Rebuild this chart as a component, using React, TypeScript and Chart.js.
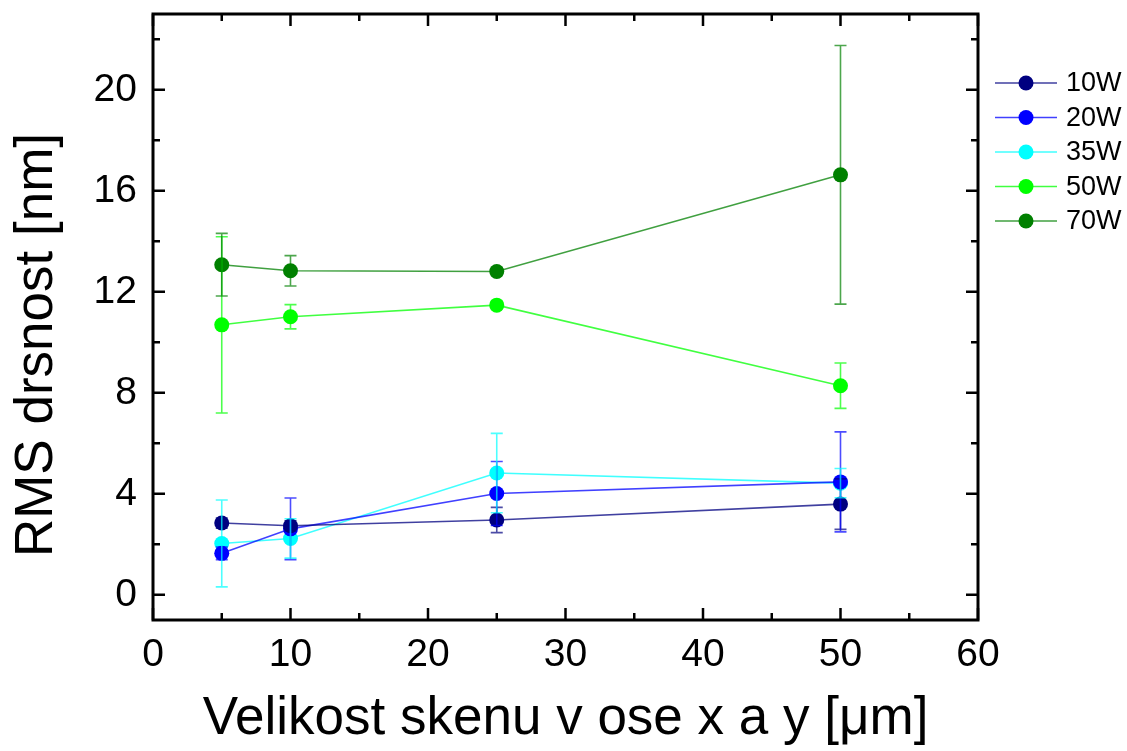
import { useEffect, useRef } from "react";
import { Chart, registerables } from "chart.js";
Chart.register(...registerables);

const scanSizes = [5, 10, 25, 50];
const seriesNames = ["10W", "20W", "35W", "50W", "70W"];
const seriesColors = ["#000080", "#0000ff", "#00ffff", "#00ff00", "#008000"];
const rms10W = [2.84, 2.73, 2.96, 3.59];
const err10W = [0.2, 0.2, 0.5, 1.0];
const rms20W = [1.64, 2.61, 4.01, 4.47];
const err20W = [0.25, 1.22, 1.27, 1.98];
const rms35W = [2.03, 2.23, 4.82, 4.42];
const err35W = [1.72, 0.78, 1.57, 0.58];
const rms50W = [10.69, 11.01, 11.47, 8.28];
const err50W = [3.49, 0.48, 0.15, 0.9];
const rms70W = [13.07, 12.83, 12.8, 16.63];
const err70W = [1.24, 0.6, 0.15, 5.12];
const xMajorTicks = [0, 10, 20, 30, 40, 50, 60];
const xMinorTicks = [5, 15, 25, 35, 45, 55];
const yMajorTicks = [0, 4, 8, 12, 16, 20];
const yMinorTicks = [2, 6, 10, 14, 18, 22];
const yTitle = "RMS drsnost [nm]";
const xTitle = "Velikost skenu v ose x a y [μm]";

const allValues = [rms10W, rms20W, rms35W, rms50W, rms70W];
const allErrors = [err10W, err20W, err35W, err50W, err70W];

const FONT = "'Liberation Sans', Arial, Helvetica, sans-serif";

function withAlpha(hex: string, a: number) {
  const r = parseInt(hex.slice(1, 3), 16);
  const g = parseInt(hex.slice(3, 5), 16);
  const b = parseInt(hex.slice(5, 7), 16);
  return `rgba(${r},${g},${b},${a})`;
}

const errorBarPlugin = {
  id: "errorBars",
  afterDatasetsDraw(chart: any) {
    const ctx = chart.ctx;
    const xs = chart.scales.x;
    const ys = chart.scales.y;
    ctx.save();
    allValues.forEach((vals, i) => {
      const errs = allErrors[i];
      ctx.strokeStyle = withAlpha(seriesColors[i], 0.7);
      ctx.lineWidth = 1.6;
      vals.forEach((v, j) => {
        const x = xs.getPixelForValue(scanSizes[j]);
        const yT = ys.getPixelForValue(v + errs[j]);
        const yB = ys.getPixelForValue(v - errs[j]);
        ctx.beginPath();
        ctx.moveTo(x, yT);
        ctx.lineTo(x, yB);
        ctx.moveTo(x - 6, yT);
        ctx.lineTo(x + 6, yT);
        ctx.moveTo(x - 6, yB);
        ctx.lineTo(x + 6, yB);
        ctx.stroke();
      });
    });
    ctx.restore();
  },
};

const framePlugin = {
  id: "frame",
  afterDraw(chart: any) {
    const ctx = chart.ctx;
    const { left, right, top, bottom } = chart.chartArea;
    const xs = chart.scales.x;
    const ys = chart.scales.y;
    ctx.save();
    ctx.strokeStyle = "#000";
    ctx.lineWidth = 2.5;
    ctx.beginPath();
    xMajorTicks.forEach((v) => {
      const x = xs.getPixelForValue(v);
      ctx.moveTo(x, bottom);
      ctx.lineTo(x, bottom - 12);
      ctx.moveTo(x, top);
      ctx.lineTo(x, top + 12);
    });
    xMinorTicks.forEach((v) => {
      const x = xs.getPixelForValue(v);
      ctx.moveTo(x, bottom);
      ctx.lineTo(x, bottom - 7);
      ctx.moveTo(x, top);
      ctx.lineTo(x, top + 7);
    });
    yMajorTicks.forEach((v) => {
      const y = ys.getPixelForValue(v);
      ctx.moveTo(left, y);
      ctx.lineTo(left + 12, y);
      ctx.moveTo(right, y);
      ctx.lineTo(right - 12, y);
    });
    yMinorTicks.forEach((v) => {
      const y = ys.getPixelForValue(v);
      ctx.moveTo(left, y);
      ctx.lineTo(left + 7, y);
      ctx.moveTo(right, y);
      ctx.lineTo(right - 7, y);
    });
    ctx.stroke();
    ctx.lineWidth = 3;
    ctx.strokeRect(left, top, right - left, bottom - top);

    // y-axis title
    ctx.save();
    ctx.fillStyle = "#000";
    ctx.font = `53px ${FONT}`;
    ctx.textAlign = "center";
    ctx.textBaseline = "alphabetic";
    ctx.translate(52, (top + bottom) / 2 + 28);
    ctx.rotate(-Math.PI / 2);
    ctx.fillText(yTitle, 0, 0);
    ctx.restore();

    // legend
    const lx = right + 17;
    let ly = top + 69;
    ctx.font = `27px ${FONT}`;
    ctx.textBaseline = "middle";
    ctx.textAlign = "left";
    seriesNames.forEach((name, i) => {
      ctx.strokeStyle = withAlpha(seriesColors[i], 0.75);
      ctx.lineWidth = 1.6;
      ctx.beginPath();
      ctx.moveTo(lx, ly);
      ctx.lineTo(lx + 62, ly);
      ctx.stroke();
      ctx.fillStyle = seriesColors[i];
      ctx.beginPath();
      ctx.arc(lx + 31, ly, 7.5, 0, Math.PI * 2);
      ctx.fill();
      ctx.fillStyle = "#000";
      ctx.fillText(name, lx + 71, ly + 1);
      ly += 34.5;
    });
    ctx.restore();
  },
};

export default function App() {
  const ref = useRef<HTMLCanvasElement>(null);
  useEffect(() => {
    if (!ref.current) return;
    const chart = new Chart(ref.current, {
      type: "line",
      data: {
        datasets: seriesNames.map((name, i) => ({
          label: name,
          data: scanSizes.map((x, j) => ({ x, y: allValues[i][j] })),
          borderColor: withAlpha(seriesColors[i], 0.75),
          borderWidth: 1.6,
          backgroundColor: seriesColors[i],
          pointBackgroundColor: seriesColors[i],
          pointBorderWidth: 0,
          pointRadius: 7.5,
          tension: 0,
          fill: false,
        })),
      },
      options: {
        animation: false,
        responsive: false,
        layout: { padding: { top: 14, right: 149, left: 0, bottom: 0 } },
        plugins: { legend: { display: false }, tooltip: { enabled: false } },
        scales: {
          x: {
            type: "linear",
            min: 0,
            max: 60,
            afterBuildTicks: (s: any) => {
              s.ticks = xMajorTicks.map((v) => ({ value: v }));
            },
            afterFit: (s: any) => {
              s.height = 131;
              s.paddingLeft = 0;
              s.paddingRight = 0;
            },
            grid: { display: false, drawTicks: false },
            border: { display: false },
            ticks: {
              padding: 12,
              color: "#000",
              font: { family: FONT, size: 39 },
              maxRotation: 0,
              autoSkip: false,
            },
            title: {
              display: true,
              text: xTitle,
              color: "#000",
              font: { family: FONT, size: 53 },
              padding: { top: 0, bottom: 0 },
            },
          },
          y: {
            type: "linear",
            min: -1,
            max: 23,
            afterBuildTicks: (s: any) => {
              s.ticks = yMajorTicks.map((v) => ({ value: v }));
            },
            afterFit: (s: any) => {
              s.width = 153;
              s.paddingTop = 0;
              s.paddingBottom = 0;
            },
            grid: { display: false, drawTicks: false },
            border: { display: false },
            ticks: {
              padding: 16,
              color: "#000",
              font: { family: FONT, size: 39 },
              autoSkip: false,
            },
            title: { display: false },
          },
        },
      },
      plugins: [errorBarPlugin, framePlugin],
    } as any);
    return () => chart.destroy();
  }, []);
  return (
    <div style={{ position: "absolute", left: 0, top: 0, width: 1127, height: 751, background: "#fff" }}>
      <canvas ref={ref} width={1127} height={751} style={{ width: 1127, height: 751 }} />
    </div>
  );
}
